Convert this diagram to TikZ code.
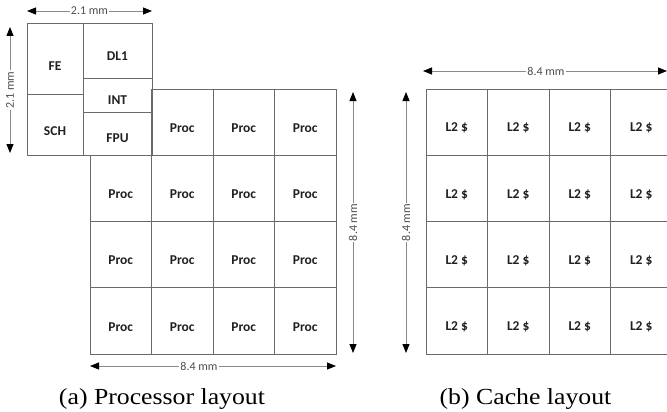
\documentclass[tikz,border=0pt]{standalone}
\usepackage{fontspec}
\setmainfont{Liberation Serif}
\newfontfamily\tagfont{Carlito}
\newfontfamily\capfont[FakeStretch=1.12]{Liberation Serif}
\usetikzlibrary{arrows.meta}
\definecolor{gridline}{HTML}{6A6A6A}
\definecolor{dimline}{HTML}{8A8A8A}
\definecolor{dimtext}{HTML}{4E4E4E}
\definecolor{tagtext}{HTML}{202020}
\tikzset{
  blk/.style={draw=gridline, line width=0.85pt, inner sep=0pt, outer sep=0pt, rectangle},
  cell/.style={blk, minimum width=61.5pt, minimum height=66.25pt},
  tag/.style={font=\tagfont\bfseries\fontsize{13.5}{15}\selectfont, text=tagtext, inner sep=0pt},
  dim/.style={draw=dimline, line width=0.9pt,
    {Triangle[length=9pt,width=7pt,color=black]}-{Triangle[length=9pt,width=7pt,color=black]}},
  dimlbl/.style={font=\tagfont\fontsize{12}{14}\selectfont, text=dimtext, fill=white, inner sep=1pt},
  caplbl/.style={font=\capfont\fontsize{23}{27}\selectfont, anchor=base, inner sep=0pt}
}
\begin{document}
\begin{tikzpicture}[x=1pt,y=-1pt]
\useasboundingbox (0,0) rectangle (667,412);
\clip (0,0) rectangle (667,412);

% --- one processor core (2.1 mm x 2.1 mm) ---
\node[blk, minimum width=56pt, minimum height=71pt,
      label={[tag, yshift=-8pt]center:FE}] (fe) at (55,58.5) {};
\node[blk, minimum width=56pt, minimum height=61pt,
      label={[tag, yshift=-7pt]center:SCH}] (sch) at (55,124.5) {};
\node[blk, minimum width=69pt, minimum height=55pt,
      label={[tag, yshift=-6pt]center:DL1}] (dl1) at (117.5,50.5) {};
\node[blk, minimum width=69pt, minimum height=34pt,
      label={[tag, yshift=-5pt]center:INT}] (int) at (117.5,95) {};
\node[blk, minimum width=69pt, minimum height=43pt,
      label={[tag, yshift=-4.5pt]center:FPU}] (fpu) at (117.5,133.5) {};

% --- processor array: 4 x 4 tiles, the first one taken by the core ---
\foreach \r in {0,...,3}{
  \foreach \c in {0,...,3}{
    \ifnum\numexpr\r+\c\relax>0
      \node[cell, label={[tag, yshift=-6pt]center:Proc}] (p-\r-\c)
        at ({120.75+61.5*\c},{122.125+66.25*\r}) {};
    \fi
  }
}

% --- cache array: 4 x 4 L2 banks ---
\foreach \r in {0,...,3}{
  \foreach \c in {0,...,3}{
    \node[cell, label={[tag, yshift=-6pt]center:L2 \$}] (l-\r-\c)
      at ({456.75+61.5*\c},{122.125+66.25*\r}) {};
  }
}

% --- dimension lines ---
\coordinate (ct1) at (fe.north west |- 0,11);
\coordinate (ct2) at (dl1.north east |- 0,11);
\draw[dim] (ct1) -- node[dimlbl] (dimct) {2.1 mm} (ct2);

\coordinate (cl1) at (10,27);
\coordinate (cl2) at (10,153);
\draw[dim] (cl1) -- node[dimlbl, rotate=90] (dimcl) {2.1 mm} (cl2);

\coordinate (pb1) at (p-3-0.south west |- 0,366);
\coordinate (pb2) at (p-3-3.south east |- 0,366);
\draw[dim] (pb1) -- node[dimlbl, pos=0.443] (dimpb) {8.4 mm} (pb2);

\coordinate (pr1) at (353,92);
\coordinate (pr2) at (353,353);
\draw[dim] (pr1) -- node[dimlbl, rotate=90] (dimpr) {8.4 mm} (pr2);

\coordinate (cr1) at (406,92);
\coordinate (cr2) at (406,353);
\draw[dim] (cr1) -- node[dimlbl, rotate=90] (dimcr) {8.4 mm} (cr2);

\coordinate (lt1) at (423,71);
\coordinate (lt2) at (667,71);
\draw[dim] (lt1) -- node[dimlbl, pos=0.504] (dimlt) {8.4 mm} (lt2);

% --- captions ---
\node[caplbl] (capa) at (162,404) {(a) Processor layout};
\node[caplbl] (capb) at (525.5,404) {(b) Cache layout};
\end{tikzpicture}
\end{document}
